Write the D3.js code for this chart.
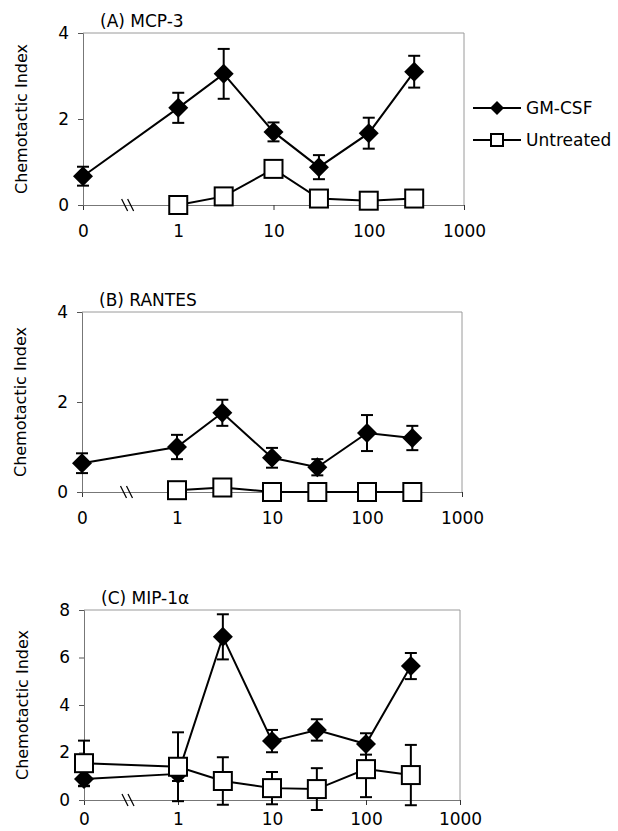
<!DOCTYPE html>
<html><head><meta charset="utf-8">
<script src="https://cdn.jsdelivr.net/npm/d3@7"></script>
<style>body{margin:0;background:#fff;} svg{display:block;font-family:"DejaVu Sans",sans-serif;}</style>
</head><body>
<div id="chart"></div>
<script>
// ---- data ----
const doses = [0, 1, 3, 10, 30, 100, 300];          // ng/ml; 0 drawn at the 0.1 position (axis break)
const xTickValues = [0.1, 1, 10, 100, 1000];
const xTickLabels = ["0", "1", "10", "100", "1000"];
const seriesNames = ["GM-CSF", "Untreated"];

const titleA = "(A) MCP-3";
const gmA = [0.67, 2.26, 3.05, 1.70, 0.88, 1.67, 3.10];
const gmAerr = [0.22, 0.35, 0.58, 0.22, 0.28, 0.36, 0.37];
const unA = [null, 0.0, 0.2, 0.84, 0.15, 0.1, 0.15];
const unAerr = [0, 0, 0, 0, 0, 0, 0];
const yTicksA = [0, 2, 4];

const titleB = "(B) RANTES";
const gmB = [0.64, 1.0, 1.76, 0.76, 0.55, 1.31, 1.2];
const gmBerr = [0.22, 0.27, 0.29, 0.22, 0.18, 0.4, 0.27];
const unB = [null, 0.04, 0.1, 0.0, 0.0, 0.0, 0.0];
const unBerr = [0, 0, 0, 0, 0, 0, 0];
const yTicksB = [0, 2, 4];

const titleC = "(C) MIP-1\u03b1";
const gmC = [0.88, 1.1, 6.87, 2.48, 2.95, 2.36, 5.64];
const gmCerr = [0.3, 0.3, 0.95, 0.47, 0.45, 0.45, 0.55];
const unC = [1.55, 1.4, 0.8, 0.5, 0.46, 1.3, 1.05];
const unCerr = [0.95, 1.45, 1.0, 0.68, 0.88, 1.18, 1.27];
const yTicksC = [0, 2, 4, 6, 8];

const yLabel = "Chemotactic Index";

// ---- layout ----
const W = 618, H = 831;
const svg = d3.select("#chart").append("svg").attr("width", W).attr("height", H);

const panels = [
  {title: titleA, gm: gmA, gmErr: gmAerr, un: unA, unErr: unAerr, yTicks: yTicksA, ymax: 4,
   left: 83, right: 464, top: 33, bottom: 205, xpad: 15},
  {title: titleB, gm: gmB, gmErr: gmBerr, un: unB, unErr: unBerr, yTicks: yTicksB, ymax: 4,
   left: 82, right: 462, top: 312, bottom: 492, xpad: 15},
  {title: titleC, gm: gmC, gmErr: gmCerr, un: unC, unErr: unCerr, yTicks: yTicksC, ymax: 8,
   left: 84, right: 460, top: 610, bottom: 800, xpad: 8}
];

const xPos = d => d === 0 ? 0.1 : d;
const diamond = s => `M0,${-s}L${s},0L0,${s}L${-s},0Z`;

panels.forEach(p => {
  const x = d3.scaleLog().domain([0.1, 1000]).range([p.left, p.right]);
  const y = d3.scaleLinear().domain([0, p.ymax]).range([p.bottom, p.top]);
  const g = svg.append("g");

  // frame top & right
  g.append("line").attr("x1", p.left).attr("x2", p.right).attr("y1", p.top).attr("y2", p.top)
    .attr("stroke", "#9a9a9a").attr("stroke-width", 1);
  g.append("line").attr("x1", p.right).attr("x2", p.right).attr("y1", p.top).attr("y2", p.bottom)
    .attr("stroke", "#9a9a9a").attr("stroke-width", 1);

  // x axis
  const xAxis = d3.axisBottom(x).tickValues(xTickValues)
    .tickFormat((d, i) => xTickLabels[i]).tickSize(5).tickPadding(p.xpad);
  const gx = g.append("g").attr("transform", `translate(0,${p.bottom})`).call(xAxis);
  gx.select(".domain").attr("stroke", "#777");
  gx.selectAll(".tick line").attr("stroke", "#333");
  gx.selectAll("text").attr("font-size", 17).attr("fill", "#000")
    .attr("font-family", "DejaVu Sans");

  // y axis
  const yAxis = d3.axisLeft(y).tickValues(p.yTicks).tickFormat(d3.format("d")).tickSize(5).tickPadding(9);
  const gy = g.append("g").attr("transform", `translate(${p.left},0)`).call(yAxis);
  gy.select(".domain").attr("stroke", "#777");
  gy.selectAll(".tick line").attr("stroke", "#555");
  gy.selectAll("text").attr("font-size", 17).attr("fill", "#000")
    .attr("font-family", "DejaVu Sans");

  // axis break marks
  const bx = (x(0.1) + x(1)) / 2 - 3;
  [-3, 3].forEach(o => {
    g.append("line").attr("x1", bx + o - 3).attr("x2", bx + o + 3)
      .attr("y1", p.bottom - 6).attr("y2", p.bottom + 6)
      .attr("stroke", "#000").attr("stroke-width", 1.3);
  });

  // title
  g.append("text").attr("x", p.left + 17).attr("y", p.top - 6)
    .attr("font-size", 17).text(p.title);

  // y label
  g.append("text").attr("transform", `translate(${p.left - 62},${(p.top + p.bottom) / 2}) rotate(-90)`)
    .attr("text-anchor", "middle").attr("dominant-baseline", "central")
    .attr("font-size", 16).text(yLabel);

  const line = d3.line().defined(d => d.v !== null).x(d => x(xPos(d.dose))).y(d => y(d.v));
  const mk = (vals, errs) => doses.map((d, i) => ({dose: d, v: vals[i], e: errs[i]}));
  const gmData = mk(p.gm, p.gmErr);
  const unData = mk(p.un, p.unErr);

  const drawErr = (data) => {
    data.filter(d => d.v !== null && d.e > 0).forEach(d => {
      const cx = x(xPos(d.dose));
      const y1 = y(d.v + d.e), y2 = y(d.v - d.e);
      g.append("line").attr("x1", cx).attr("x2", cx).attr("y1", y1).attr("y2", y2)
        .attr("stroke", "#000").attr("stroke-width", 2);
      [y1, y2].forEach(yy => g.append("line").attr("x1", cx - 6).attr("x2", cx + 6)
        .attr("y1", yy).attr("y2", yy).attr("stroke", "#000").attr("stroke-width", 2));
    });
  };

  // GM-CSF
  drawErr(gmData);
  g.append("path").datum(gmData).attr("d", line).attr("fill", "none")
    .attr("stroke", "#000").attr("stroke-width", 2);
  g.selectAll(null).data(gmData.filter(d => d.v !== null)).enter().append("path")
    .attr("d", diamond(10))
    .attr("transform", d => `translate(${x(xPos(d.dose))},${y(d.v)})`)
    .attr("fill", "#000");

  // Untreated
  drawErr(unData);
  g.append("path").datum(unData).attr("d", line).attr("fill", "none")
    .attr("stroke", "#000").attr("stroke-width", 2);
  g.selectAll(null).data(unData.filter(d => d.v !== null)).enter().append("rect")
    .attr("x", d => x(xPos(d.dose)) - 9).attr("y", d => y(d.v) - 9)
    .attr("width", 18).attr("height", 18)
    .attr("fill", "#fff").attr("stroke", "#000").attr("stroke-width", 2);
});

// legend
const leg = svg.append("g");
const legY = [108, 140];
seriesNames.forEach((name, i) => {
  const yy = legY[i];
  leg.append("line").attr("x1", 473).attr("x2", 521).attr("y1", yy).attr("y2", yy)
    .attr("stroke", "#000").attr("stroke-width", 2);
  if (i === 0) {
    leg.append("path").attr("d", diamond(7)).attr("transform", `translate(497,${yy})`).attr("fill", "#000");
  } else {
    leg.append("rect").attr("x", 491).attr("y", yy - 6).attr("width", 12).attr("height", 12)
      .attr("fill", "#fff").attr("stroke", "#000").attr("stroke-width", 2);
  }
  leg.append("text").attr("x", 526).attr("y", yy).attr("dominant-baseline", "central")
    .attr("font-size", 17).text(name);
});
</script>
</body></html>
